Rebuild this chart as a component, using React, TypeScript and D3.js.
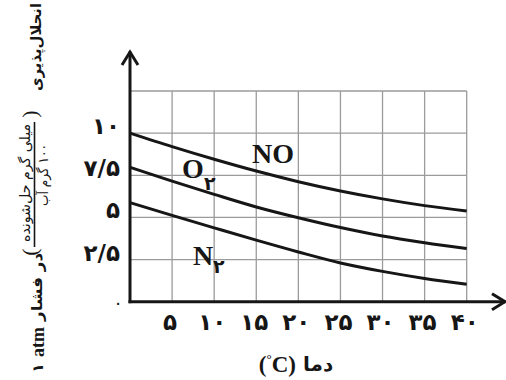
import React from 'react';
import * as d3 from 'd3';

// temperature (°C) and solubility (mg solute / 100 g water)
const temps = [0, 5, 10, 15, 20, 25, 30, 35, 40];
const noValues = [10, 9.2, 8.45, 7.75, 7.12, 6.57, 6.1, 5.7, 5.38];
const o2Values = [7.97, 7.15, 6.37, 5.62, 4.98, 4.4, 3.9, 3.5, 3.15];
const n2Values = [5.88, 5.12, 4.38, 3.65, 2.95, 2.3, 1.8, 1.38, 1.04];

const xTickValues = [5, 10, 15, 20, 25, 30, 35, 40];
const xTickLabels = ['۵', '۱۰', '۱۵', '۲۰', '۲۵', '۳۰', '۳۵', '۴۰'];
const yTickValues = [2.5, 5, 7.5, 10];
const yTickLabels = ['۲/۵', '۵', '۷/۵', '۱۰'];
const yGridValues = [2.5, 5, 7.5, 10, 12.5];

const W = 506;
const H = 380;
const ink = '#161616';
const persian = '"DejaVu Sans", sans-serif';
const serif = '"Liberation Serif", "DejaVu Serif", serif';

const App = () => {
    const x = d3.scaleLinear().domain([0, 40]).range([130, 466.7]);
    const y = d3.scaleLinear().domain([0, 12.5]).range([301.7, 91]);

    const line = d3.line<number>()
        .x((d, i) => x(temps[i]))
        .y(d => y(d))
        .curve(d3.curveMonotoneX);

    const x0 = x(0);
    const y0 = y(0);
    const yTop = 52;
    const xEnd = 505;

    // rotated y-axis title pieces
    const rot = (cx: number, cy: number) => `translate(${cx},${cy}) rotate(-90)`;

    return (
        <svg width={W} height={H} style={{ position: 'absolute', left: 0, top: 0, background: '#fff' }}>
            {/* grid */}
            <g stroke="#9b9b9b" strokeWidth={1.3}>
                {xTickValues.map(v => (
                    <line key={'gx' + v} x1={x(v)} x2={x(v)} y1={y(12.5)} y2={y0} />
                ))}
                {yGridValues.map(v => (
                    <line key={'gy' + v} x1={x0} x2={x(40)} y1={y(v)} y2={y(v)} />
                ))}
            </g>

            {/* curves */}
            <g fill="none" stroke={ink} strokeWidth={3}>
                <path d={line(noValues) || ''} />
                <path d={line(o2Values) || ''} />
                <path d={line(n2Values) || ''} />
            </g>

            {/* axes with arrows */}
            <g stroke={ink} strokeWidth={3} fill="none" strokeLinecap="square">
                <line x1={x0} x2={x0} y1={y0} y2={yTop + 1} />
                <polyline points={`${x0 - 8},${yTop + 13} ${x0},${yTop} ${x0 + 8},${yTop + 13}`} strokeLinecap="butt" />
                <line x1={x0} x2={xEnd - 1} y1={y0} y2={y0} />
                <polyline points={`${xEnd - 13},${y0 - 8} ${xEnd},${y0} ${xEnd - 13},${y0 + 8}`} strokeLinecap="butt" />
            </g>

            {/* y tick labels */}
            <g fontFamily={persian} fontWeight="bold" fontSize={23} fill={ink} textAnchor="end">
                {yTickValues.map((v, i) => (
                    <text key={'yt' + v} x={120} y={y(v) + 1}>{yTickLabels[i]}</text>
                ))}
            </g>
            <text x={118} y={309} fontFamily={persian} fontSize={18} fill={ink} textAnchor="middle">۰</text>

            {/* x tick labels */}
            <g fontFamily={persian} fontWeight="bold" fontSize={23} fill={ink} textAnchor="middle">
                {xTickValues.map((v, i) => (
                    <text key={'xt' + v} x={x(v) - 2} y={330}>{xTickLabels[i]}</text>
                ))}
            </g>

            {/* x axis title */}
            <text x={296} y={372} textAnchor="end" fill={ink} fontWeight="bold" fontFamily={serif} fontSize={23}>
                (<tspan fontSize={13} dy={-9}>°</tspan><tspan dy={9}>C)</tspan>
            </text>
            <text x={303} y={371} fill={ink} fontWeight="bold" fontFamily={persian} fontSize={20}>دما</text>

            {/* curve labels */}
            <g fontFamily={serif} fontWeight="bold" fontSize={28} fill={ink}>
                <text x={252} y={163}>NO</text>
                <text x={182} y={178}>O</text>
                <text x={193} y={265}>N</text>
            </g>
            <g fontFamily={persian} fontWeight="bold" fontSize={19} fill={ink}>
                <text x={204} y={190}>۲</text>
                <text x={213} y={273}>۲</text>
            </g>

            {/* y axis title */}
            <g fill={ink}>
                <text transform={rot(41, 47)} textAnchor="middle" fontFamily={persian} fontWeight="bold" fontSize={15}
                    textLength={88} lengthAdjust="spacingAndGlyphs">انحلال‌پذیری</text>
                <text transform={rot(37, 114)} textAnchor="middle" fontFamily={serif} fontSize={22}>)</text>
                <text transform={rot(30, 183)} textAnchor="middle" fontFamily={persian} fontSize={14}
                    textLength={118} lengthAdjust="spacingAndGlyphs">میلی گرم حل‌شونده</text>
                <line x1={34.5} x2={34.5} y1={122} y2={247} stroke={ink} strokeWidth={1.6} />
                <text transform={rot(48, 175)} textAnchor="middle" fontFamily={persian} fontSize={14}
                    textLength={62} lengthAdjust="spacingAndGlyphs" style={{ direction: 'rtl' }}>۱۰۰ گرم آب</text>
                <text transform={rot(37, 252)} textAnchor="middle" fontFamily={serif} fontSize={22}>(</text>
                <text transform={rot(42, 287)} textAnchor="middle" fontFamily={persian} fontWeight="bold" fontSize={15}
                    textLength={68} lengthAdjust="spacingAndGlyphs">در فشار</text>
                <text transform={rot(44, 342)} textAnchor="middle" fontFamily={serif} fontWeight="bold" fontSize={18}>atm</text>
                <text transform={rot(43, 368)} textAnchor="middle" fontFamily={persian} fontWeight="bold" fontSize={15}>۱</text>
            </g>
        </svg>
    );
};

export default App;
